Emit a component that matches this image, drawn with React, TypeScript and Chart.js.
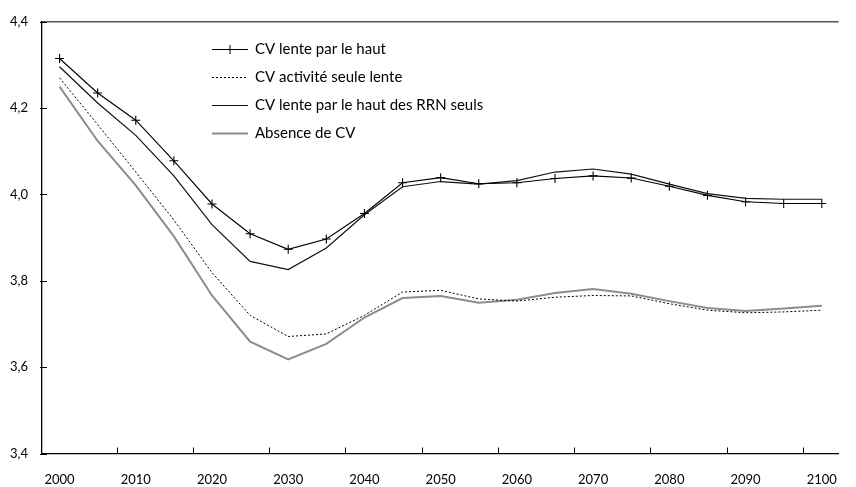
import React, { useEffect, useRef } from "react";
import { Chart, registerables } from "chart.js";

Chart.register(...registerables);

const years = [2000, 2005, 2010, 2015, 2020, 2025, 2030, 2035, 2040, 2045, 2050, 2055, 2060, 2065, 2070, 2075, 2080, 2085, 2090, 2095, 2100];

const cvLenteHaut = [4.315, 4.235, 4.172, 4.078, 3.978, 3.909, 3.873, 3.897, 3.956, 4.027, 4.039, 4.025, 4.027, 4.037, 4.043, 4.038, 4.019, 3.998, 3.983, 3.979, 3.979];
const cvActiviteSeule = [4.27, 4.162, 4.052, 3.941, 3.819, 3.72, 3.671, 3.677, 3.72, 3.774, 3.778, 3.758, 3.753, 3.762, 3.766, 3.765, 3.747, 3.732, 3.726, 3.728, 3.732];
const cvLenteHautRRN = [4.296, 4.212, 4.137, 4.043, 3.93, 3.845, 3.826, 3.876, 3.953, 4.018, 4.03, 4.024, 4.032, 4.052, 4.059, 4.047, 4.024, 4.002, 3.991, 3.989, 3.989];
const absenceCV = [4.25, 4.124, 4.021, 3.903, 3.766, 3.659, 3.618, 3.654, 3.715, 3.76, 3.765, 3.749, 3.756, 3.772, 3.781, 3.77, 3.753, 3.737, 3.73, 3.736, 3.742];

const seriesLabels = [
  "CV lente par le haut",
  "CV activité seule lente",
  "CV lente par le haut des RRN seuls",
  "Absence de CV",
];

const xTickLabels = [2000, 2010, 2020, 2030, 2040, 2050, 2060, 2070, 2080, 2090, 2100];
const xTickMarks = [2007.5, 2017.5, 2027.5, 2037.5, 2047.5, 2057.5, 2067.5, 2077.5, 2087.5, 2097.5];
const yTickValues = [3.4, 3.6, 3.8, 4.0, 4.2, 4.4];

const FONT = "Lato, 'DejaVu Sans', sans-serif";

const toPoints = (vals: number[]) => years.map((x, i) => ({ x, y: vals[i] }));

const decorPlugin = {
  id: "decor",
  afterDraw(chart: any) {
    const { ctx, chartArea } = chart;
    const xs = chart.scales.x;
    const ys = chart.scales.y;
    const { left, right, top, bottom } = chartArea;
    ctx.save();
    // top border
    ctx.strokeStyle = "#555";
    ctx.lineWidth = 1.5;
    ctx.beginPath();
    ctx.moveTo(left, top);
    ctx.lineTo(right, top);
    ctx.stroke();
    // x tick marks (inward)
    ctx.strokeStyle = "#000";
    ctx.lineWidth = 1;
    for (const t of xTickMarks) {
      const px = Math.round(xs.getPixelForValue(t)) + 0.5;
      ctx.beginPath();
      ctx.moveTo(px, bottom);
      ctx.lineTo(px, bottom - 6);
      ctx.stroke();
    }
    // y tick marks
    for (const v of yTickValues) {
      const py = Math.round(ys.getPixelForValue(v)) + 0.5;
      ctx.beginPath();
      ctx.moveTo(left - 2, py);
      ctx.lineTo(left + 5, py);
      ctx.stroke();
    }
    // legend
    const lx0 = left + 170;
    const lx1 = left + 206;
    const tx = left + 213;
    ctx.font = "15px " + FONT;
    ctx.textBaseline = "middle";
    ctx.textAlign = "left";
    chart.data.datasets.forEach((ds: any, i: number) => {
      const ly = Math.round(top + 27.3 + i * 28) + 0.5;
      ctx.save();
      ctx.strokeStyle = ds.borderColor;
      ctx.lineWidth = ds.borderWidth;
      ctx.setLineDash(ds.borderDash || []);
      ctx.beginPath();
      ctx.moveTo(lx0, ly);
      ctx.lineTo(lx1, ly);
      ctx.stroke();
      ctx.restore();
      if (ds.pointRadius > 0) {
        const cx = (lx0 + lx1) / 2;
        const r = ds.pointRadius;
        ctx.strokeStyle = ds.pointBorderColor;
        ctx.lineWidth = 1;
        ctx.beginPath();
        ctx.moveTo(cx - r, ly);
        ctx.lineTo(cx + r, ly);
        ctx.moveTo(cx, ly - r);
        ctx.lineTo(cx, ly + r);
        ctx.stroke();
      }
      ctx.fillStyle = "#000";
      ctx.fillText(ds.label, tx, ly);
    });
    ctx.restore();
  },
};

export default function App() {
  const canvasRef = useRef<HTMLCanvasElement | null>(null);

  useEffect(() => {
    const canvas = canvasRef.current;
    if (!canvas) return;
    const chart = new Chart(canvas, {
      type: "line",
      data: {
        datasets: [
          {
            label: seriesLabels[0],
            data: toPoints(cvLenteHaut),
            borderColor: "#000",
            borderWidth: 1.1,
            pointStyle: "cross",
            pointRadius: 4.5,
            pointBorderColor: "#000",
            pointBorderWidth: 1.1,
            pointBackgroundColor: "#000",
            tension: 0,
          },
          {
            label: seriesLabels[1],
            data: toPoints(cvActiviteSeule),
            borderColor: "#000",
            borderWidth: 1,
            borderDash: [2, 2],
            pointRadius: 0,
            tension: 0,
          },
          {
            label: seriesLabels[2],
            data: toPoints(cvLenteHautRRN),
            borderColor: "#111",
            borderWidth: 1.2,
            pointRadius: 0,
            tension: 0,
          },
          {
            label: seriesLabels[3],
            data: toPoints(absenceCV),
            borderColor: "#8c8c8c",
            borderWidth: 2,
            pointRadius: 0,
            tension: 0,
          },
        ],
      },
      options: {
        responsive: false,
        animation: false,
        layout: { padding: { top: 16, right: 0, left: 0, bottom: 0 } },
        plugins: {
          legend: { display: false },
          tooltip: { enabled: false },
        },
        scales: {
          x: {
            type: "linear",
            min: 1997.7,
            max: 2102.2,
            afterBuildTicks: (scale: any) => {
              scale.ticks = xTickLabels.map((v) => ({ value: v }));
            },
            afterFit: (scale: any) => {
              scale.height = 33.5;
            },
            grid: { display: false, drawTicks: false },
            border: { display: true, color: "#000", width: 1.3 },
            ticks: {
              autoSkip: false,
              maxRotation: 0,
              padding: 19,
              color: "#000",
              font: { family: FONT, size: 13 },
              callback: (v: any) => String(v),
            },
          },
          y: {
            type: "linear",
            min: 3.4,
            max: 4.4,
            afterBuildTicks: (scale: any) => {
              scale.ticks = yTickValues.map((v) => ({ value: v }));
            },
            afterFit: (scale: any) => {
              scale.width = 42;
            },
            grid: { display: false, drawTicks: false },
            border: { display: true, color: "#000", width: 1.3 },
            ticks: {
              padding: 14,
              color: "#000",
              font: { family: FONT, size: 13 },
              callback: (v: any) => Number(v).toFixed(1).replace(".", ","),
            },
          },
        },
      },
      plugins: [decorPlugin],
    } as any);
    return () => chart.destroy();
  }, []);

  return (
    <div style={{ position: "absolute", left: 0, top: 0, width: 856, height: 487, background: "#fff" }}>
      <canvas ref={canvasRef} width={856} height={487} style={{ display: "block" }} />
    </div>
  );
}
